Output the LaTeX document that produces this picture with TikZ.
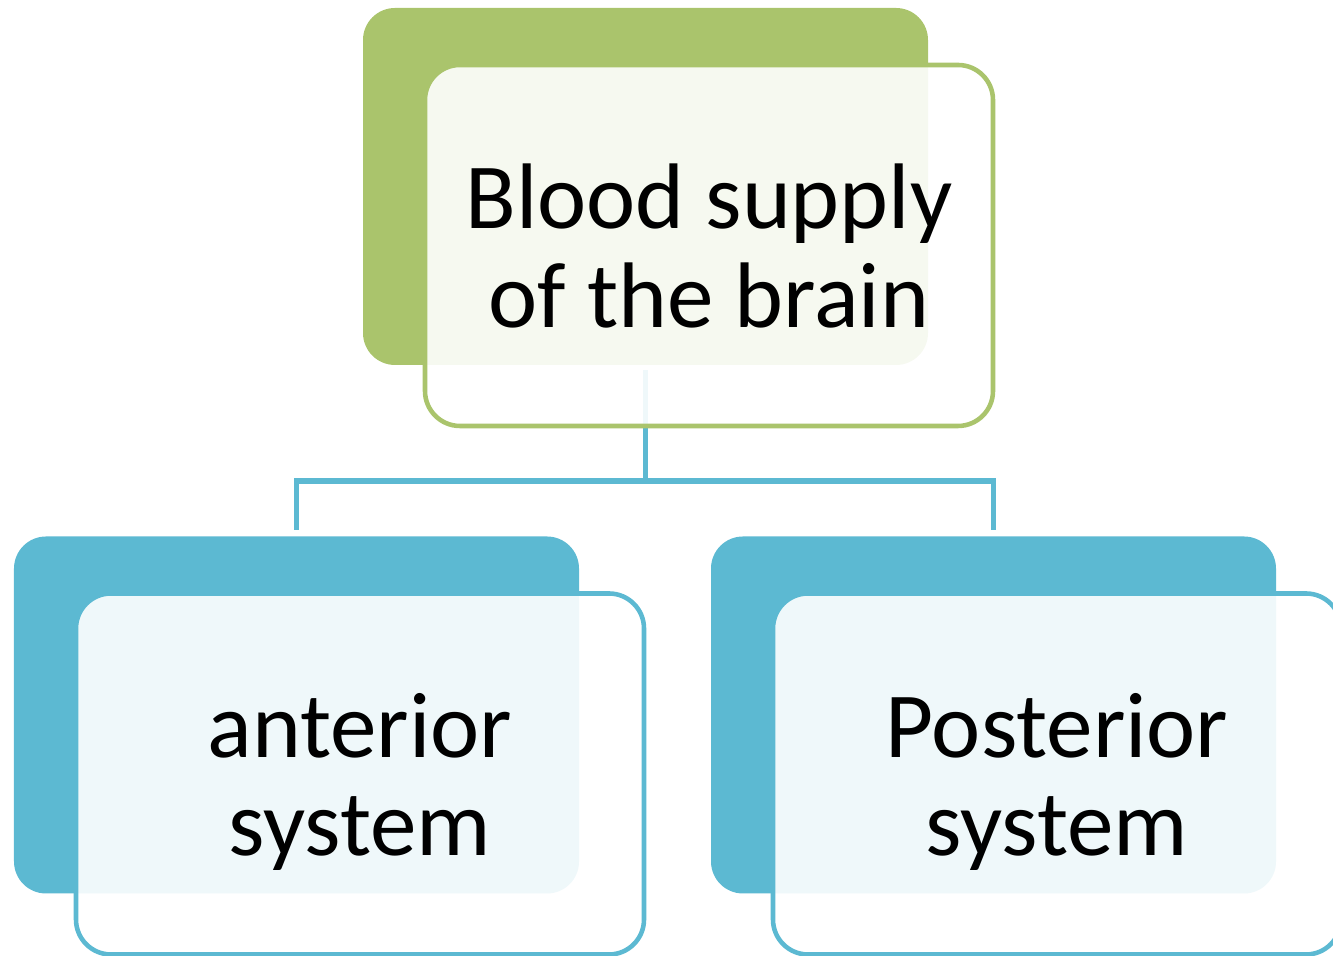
\documentclass[tikz,border=0pt]{standalone}
\usepackage{fontspec}
\setmainfont{Carlito}
\usetikzlibrary{positioning}
\usepackage{xcolor}
\definecolor{cardgreen}{HTML}{AAC46C}
\definecolor{cardblue}{HTML}{5CB9D2}

\newcommand{\cardlines}[2]{\vphantom{Bl}#1\\\smash{#2}}

\begin{document}
\begin{tikzpicture}[
  cardback/.style={fill=#1, rounded corners=0.64cm,
                   minimum width=11.3cm, minimum height=7.14cm, inner sep=0pt},
  cardfront/.style={draw=#1, fill=white, fill opacity=0.9, draw opacity=1,
                    text opacity=1, line width=2.6pt, rounded corners=0.7cm,
                    minimum width=11.36cm, minimum height=7.22cm, inner sep=0pt,
                    align=center, font=\fontsize{53}{56}\selectfont},
  link/.style={draw=cardblue, line width=3.1pt, shorten <=0.1cm, shorten >=0.12cm}
]
  \path[use as bounding box, clip] (0,0) rectangle (26.66,19.12);

  % Back cards
  \node[cardback=cardgreen] (topback)   at (12.91,15.39) {};
  \node[cardback=cardblue]  (leftback)  at (5.93,4.82)   {};
  \node[cardback=cardblue]  (rightback) at (19.87,4.82)  {};

  % Connectors, under the front cards
  \coordinate (hub) at (12.91,9.5);
  \draw[link] (topback.south) -- (hub) -| (leftback.north);
  \draw[link] (topback.south) -- (hub) -| (rightback.north);

  % Front cards
  \node[cardfront=cardgreen] (top)   at ([shift={(1.27,-1.18)}]topback.center)
    {\cardlines{Blood supply}{of the brain}};
  \node[cardfront=cardblue]  (left)  at ([shift={(1.27,-1.18)}]leftback.center)
    {\cardlines{anterior}{system}};
  \node[cardfront=cardblue]  (right) at ([shift={(1.27,-1.18)}]rightback.center)
    {\cardlines{Posterior}{system}};
\end{tikzpicture}
\end{document}
